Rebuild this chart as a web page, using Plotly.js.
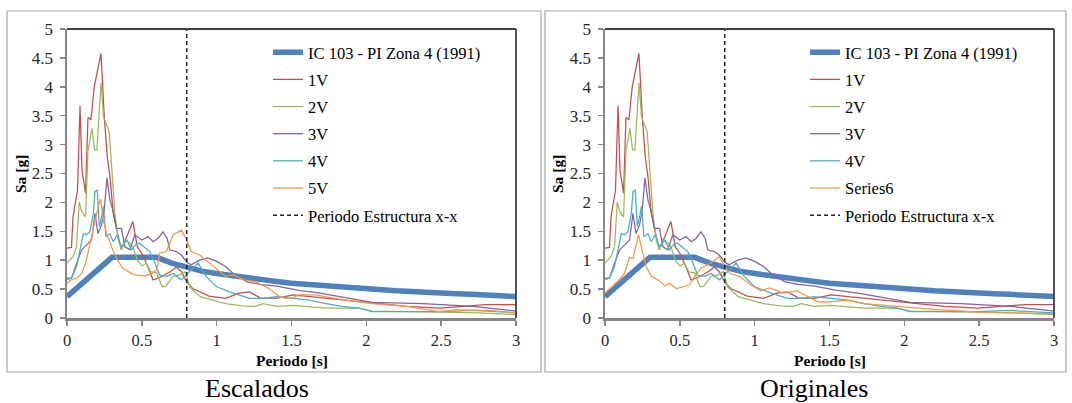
<!DOCTYPE html>
<html>
<head>
<meta charset="utf-8">
<script src="https://cdn.plot.ly/plotly-3.0.1.min.js"></script>
<style>html,body{margin:0;padding:0;background:#fff;}#chart{width:1072px;height:403px;}</style>
</head>
<body>
<div id="chart"></div>
<script>
// ---------- DATA ----------
const NAMES_LEFT  = ['IC 103 - PI Zona 4 (1991)', '1V', '2V', '3V', '4V', '5V', 'Periodo Estructura x-x'];
const NAMES_RIGHT = ['IC 103 - PI Zona 4 (1991)', '1V', '2V', '3V', '4V', 'Series6', 'Periodo Estructura x-x'];
const PANEL_TITLES = ['Escalados', 'Originales'];
const X_TITLE = 'Periodo [s]';
const Y_TITLE = 'Sa [g]';

// Design spectrum IC 103 - PI Zona 4 (1991)
const T_CODE  = [0, 0.1, 0.2, 0.3, 0.4, 0.5, 0.6, 0.7, 0.8, 0.9, 1.0, 1.1, 1.2, 1.3, 1.4, 1.5, 1.6, 1.7, 1.8, 1.9, 2.0, 2.1, 2.2, 2.3, 2.4, 2.5, 2.6, 2.7, 2.8, 2.9, 3.0];
const SA_CODE = [0.37, 0.60, 0.83, 1.05, 1.05, 1.05, 1.05, 0.95, 0.87, 0.81, 0.77, 0.73, 0.69, 0.66, 0.63, 0.60, 0.58, 0.56, 0.53, 0.52, 0.50, 0.48, 0.47, 0.46, 0.44, 0.43, 0.42, 0.41, 0.39, 0.38, 0.37];

// 1V
const T_1V  = [0, 0.03, 0.04, 0.07, 0.087, 0.10, 0.124, 0.14, 0.16, 0.182, 0.227, 0.249, 0.269, 0.287, 0.309, 0.336, 0.362, 0.40, 0.44, 0.47, 0.50, 0.54, 0.575, 0.62, 0.69, 0.73, 0.764, 0.80, 0.84, 0.95, 1.06, 1.15, 1.22, 1.29, 1.40, 1.51, 1.62, 1.73, 1.86, 1.95, 2.05, 2.27, 2.49, 2.65, 2.80, 3.0];
const SA_1V = [1.21, 1.22, 1.75, 2.21, 3.67, 2.56, 2.16, 3.47, 3.43, 4.00, 4.58, 3.48, 2.79, 2.45, 1.81, 1.46, 1.18, 1.41, 1.67, 1.23, 1.12, 0.89, 0.66, 0.70, 0.80, 0.88, 0.80, 0.62, 0.51, 0.38, 0.34, 0.43, 0.45, 0.35, 0.34, 0.40, 0.37, 0.34, 0.31, 0.28, 0.25, 0.20, 0.17, 0.20, 0.23, 0.23];

// 2V
const T_2V  = [0, 0.04, 0.064, 0.082, 0.098, 0.124, 0.14, 0.167, 0.184, 0.20, 0.227, 0.244, 0.282, 0.302, 0.32, 0.342, 0.364, 0.387, 0.42, 0.44, 0.47, 0.50, 0.53, 0.56, 0.60, 0.635, 0.66, 0.71, 0.76, 0.79, 0.82, 0.89, 0.98, 1.06, 1.17, 1.26, 1.31, 1.40, 1.51, 1.62, 1.73, 1.95, 2.04, 2.30, 2.50, 2.75, 3.0];
const SA_2V = [0.95, 1.06, 1.23, 2.01, 1.84, 1.75, 2.88, 3.28, 2.91, 2.91, 4.07, 3.48, 3.22, 2.45, 1.81, 1.35, 1.18, 1.35, 1.30, 1.23, 1.00, 0.90, 0.95, 0.80, 0.78, 0.54, 0.55, 0.72, 0.75, 0.80, 0.54, 0.37, 0.31, 0.25, 0.21, 0.20, 0.25, 0.20, 0.22, 0.20, 0.17, 0.17, 0.12, 0.11, 0.10, 0.09, 0.06];

// 3V
const T_3V  = [0, 0.03, 0.064, 0.098, 0.13, 0.164, 0.187, 0.207, 0.231, 0.249, 0.267, 0.287, 0.309, 0.33, 0.364, 0.387, 0.42, 0.453, 0.50, 0.542, 0.576, 0.609, 0.642, 0.669, 0.687, 0.73, 0.764, 0.80, 0.83, 0.887, 0.94, 1.0, 1.06, 1.11, 1.20, 1.29, 1.40, 1.55, 1.69, 1.82, 1.95, 2.04, 2.38, 2.71, 2.93, 3.0];
const SA_3V = [0.69, 0.69, 0.95, 1.18, 1.26, 1.35, 1.81, 1.46, 1.61, 1.87, 2.42, 2.04, 1.84, 1.55, 1.55, 1.23, 1.18, 1.44, 1.35, 1.41, 1.32, 1.38, 1.49, 1.38, 1.18, 1.15, 1.09, 0.97, 0.92, 1.00, 1.04, 0.98, 0.89, 0.77, 0.63, 0.58, 0.55, 0.48, 0.43, 0.37, 0.31, 0.27, 0.25, 0.20, 0.14, 0.12];

// 4V
const T_4V  = [0, 0.03, 0.064, 0.09, 0.109, 0.13, 0.153, 0.176, 0.187, 0.202, 0.216, 0.231, 0.244, 0.26, 0.287, 0.309, 0.336, 0.364, 0.40, 0.43, 0.464, 0.487, 0.553, 0.587, 0.62, 0.664, 0.71, 0.764, 0.82, 0.876, 0.93, 1.0, 1.11, 1.22, 1.31, 1.40, 1.51, 1.62, 1.73, 1.84, 1.95, 2.04, 2.27, 2.49, 2.71, 3.0];
const SA_4V = [0.66, 0.69, 0.89, 1.23, 1.46, 1.44, 1.49, 1.81, 2.19, 2.21, 1.58, 1.75, 1.93, 1.41, 1.46, 1.32, 1.44, 1.23, 1.35, 1.18, 1.29, 1.29, 1.15, 0.95, 0.74, 0.72, 0.77, 0.66, 0.80, 0.95, 0.72, 0.54, 0.43, 0.34, 0.34, 0.37, 0.34, 0.31, 0.25, 0.20, 0.17, 0.11, 0.11, 0.11, 0.13, 0.09];

// 5V (scaled) – left panel
const T_5V  = [0, 0.03, 0.064, 0.098, 0.127, 0.153, 0.176, 0.198, 0.224, 0.242, 0.264, 0.287, 0.309, 0.342, 0.376, 0.409, 0.44, 0.47, 0.52, 0.56, 0.60, 0.62, 0.664, 0.71, 0.764, 0.80, 0.83, 0.887, 0.93, 1.0, 1.06, 1.11, 1.18, 1.26, 1.35, 1.42, 1.46, 1.51, 1.55, 1.66, 1.78, 1.86, 1.95, 2.04, 2.27, 2.49, 2.60, 2.82, 3.0];
const SA_5V = [0.60, 0.66, 0.69, 0.77, 0.97, 1.29, 1.58, 1.81, 2.06, 1.70, 1.46, 1.32, 1.15, 0.98, 0.85, 0.80, 0.76, 0.74, 0.73, 0.76, 0.83, 1.12, 1.15, 1.44, 1.52, 1.35, 1.15, 1.09, 1.00, 0.86, 0.72, 0.75, 0.66, 0.63, 0.51, 0.37, 0.34, 0.35, 0.40, 0.40, 0.34, 0.31, 0.28, 0.25, 0.20, 0.11, 0.14, 0.13, 0.09];

// Series6 (original) – right panel
const T_S6  = [0, 0.04, 0.087, 0.13, 0.164, 0.187, 0.224, 0.253, 0.276, 0.309, 0.353, 0.40, 0.43, 0.476, 0.52, 0.564, 0.598, 0.642, 0.709, 0.764, 0.80, 0.836, 0.90, 0.97, 1.04, 1.10, 1.19, 1.28, 1.35, 1.42, 1.51, 1.62, 1.73, 1.84, 1.95, 2.20, 2.50, 2.75, 3.0];
const SA_S6 = [0.43, 0.52, 0.64, 0.77, 1.05, 1.03, 1.44, 1.12, 0.89, 0.72, 0.66, 0.56, 0.60, 0.51, 0.54, 0.57, 0.72, 0.86, 0.95, 1.06, 0.89, 0.77, 0.72, 0.58, 0.47, 0.52, 0.43, 0.47, 0.38, 0.28, 0.28, 0.31, 0.25, 0.22, 0.20, 0.15, 0.10, 0.09, 0.07];

// Structure period (vertical dashed line) and Sa span
const T_STRUCT = [0.8, 0.8];
const SA_STRUCT = [0, 5];

// ---------- STYLE ----------
const COLORS = ['#4F81BD', '#C0504D', '#9BBB59', '#8064A2', '#4BACC6', '#F79646', '#262626'];
const W = 1072, H = 403;
const px = v => v / W;
const py = v => 1 - v / H;
const SERIF = 'Liberation Serif, Times New Roman, serif';

function panelTraces(names, xa, ya, legendId, lastT, lastSa) {
  const xs = [T_CODE, T_1V, T_2V, T_3V, T_4V, lastT, T_STRUCT];
  const ys = [SA_CODE, SA_1V, SA_2V, SA_3V, SA_4V, lastSa, SA_STRUCT];
  return names.map((n, i) => ({
    type: 'scatter', mode: 'lines', name: n,
    x: xs[i], y: ys[i], xaxis: xa, yaxis: ya,
    legend: legendId, legendgroup: legendId + '_' + i,
    line: {
      color: COLORS[i],
      width: i === 0 ? 5.5 : (i === 6 ? 1.5 : 1.25),
      dash: i === 6 ? '4px,3px' : 'solid'
    },
    hoverinfo: 'skip'
  }));
}

const traces = [].concat(
  panelTraces(NAMES_LEFT, 'x', 'y', 'legend', T_5V, SA_5V),
  panelTraces(NAMES_RIGHT, 'x2', 'y2', 'legend2', T_S6, SA_S6)
);

function xAxis(dom, anchor) {
  return {
    domain: dom, anchor: anchor, range: [0, 3], tick0: 0, dtick: 0.5,
    ticks: 'outside', ticklen: 5, tickwidth: 1.5, tickcolor: '#868686',
    showline: true, linecolor: '#868686', linewidth: 2.5,
    showgrid: false, zeroline: false, fixedrange: true,
    ticklabelstandoff: 1,
    tickfont: { family: SERIF, size: 16.5, color: '#262626' }
  };
}
function yAxis(dom, anchor) {
  return {
    domain: dom, anchor: anchor, range: [0, 5], tick0: 0, dtick: 0.5,
    ticks: 'outside', ticklen: 5, tickwidth: 1.5, tickcolor: '#868686',
    showline: true, linecolor: '#868686', linewidth: 2.5,
    showgrid: false, zeroline: false, fixedrange: true,
    ticklabelstandoff: 3,
    tickfont: { family: SERIF, size: 17, color: '#262626' }
  };
}

const yDom = [py(318), py(29)];
const legendBase = {
  xanchor: 'left', yanchor: 'top', y: py(35),
  bgcolor: 'rgba(0,0,0,0)', borderwidth: 0,
  traceorder: 'grouped', tracegroupgap: 2.7,
  font: { family: SERIF, size: 16.5, color: '#000' }
};

function frame(xr, yr) {
  return [
    { type: 'line', xref: xr, yref: yr, x0: 0, x1: 1, y0: 1, y1: 1, line: { color: '#404040', width: 1.8 } },
    { type: 'line', xref: xr, yref: yr, x0: 1, x1: 1, y0: 0, y1: 1, line: { color: '#404040', width: 1.8 } }
  ];
}

function note(text, x, y, size, angle) {
  return {
    text: text, xref: 'paper', yref: 'paper', x: px(x), y: py(y),
    xanchor: 'center', yanchor: 'middle', textangle: angle || 0,
    showarrow: false, font: { family: SERIF, size: size, color: '#000' }
  };
}

const layout = {
  width: W, height: H,
  margin: { l: 0, r: 0, t: 0, b: 0 },
  paper_bgcolor: '#fff', plot_bgcolor: '#fff',
  showlegend: true,
  xaxis: xAxis([px(67), px(516)], 'y'),
  yaxis: yAxis(yDom, 'x'),
  xaxis2: xAxis([px(605), px(1054)], 'y2'),
  yaxis2: yAxis(yDom, 'x2'),
  legend: Object.assign({}, legendBase, { x: px(268) }),
  legend2: Object.assign({}, legendBase, { x: px(805) }),
  shapes: [
    { type: 'rect', xref: 'paper', yref: 'paper', x0: px(7), x1: px(541), y0: py(372), y1: py(11), line: { color: '#A6A6A6', width: 1.2 } },
    { type: 'rect', xref: 'paper', yref: 'paper', x0: px(545), x1: px(1066), y0: py(372), y1: py(11), line: { color: '#A6A6A6', width: 1.2 } }
  ].concat(frame('x domain', 'y domain'), frame('x2 domain', 'y2 domain')),
  annotations: [
    note('<b>' + Y_TITLE + '</b>', 20, 174, 15.5, -90),
    note('<b>' + Y_TITLE + '</b>', 557, 174, 15.5, -90),
    note('<b>' + X_TITLE + '</b>', 292, 360, 15.5),
    note('<b>' + X_TITLE + '</b>', 830, 360, 15.5),
    note(PANEL_TITLES[0], 257, 388, 26),
    note(PANEL_TITLES[1], 814, 388, 26)
  ]
};

Plotly.newPlot('chart', traces, layout, { displayModeBar: false, staticPlot: true });
</script>
</body>
</html>
